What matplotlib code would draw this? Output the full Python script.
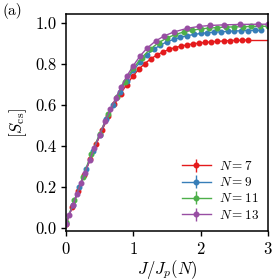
import matplotlib
matplotlib.use("Agg")
import matplotlib.pyplot as plt

# fontes estilo LaTeX
plt.rcParams["font.family"] = "serif"
plt.rcParams["font.serif"] = ["cmr10", "DejaVu Serif"]
plt.rcParams["mathtext.fontset"] = "cm"
plt.rcParams["axes.formatter.use_mathtext"] = True

# dados
x_n7 = [0.0, 0.09, 0.18, 0.27, 0.36, 0.45, 0.54, 0.63, 0.72, 0.81, 0.9, 0.99, 1.08,
        1.17, 1.26, 1.35, 1.44, 1.53, 1.62, 1.71, 1.8, 1.89, 1.98, 2.07, 2.16, 2.25,
        2.34, 2.43, 2.52, 2.61, 2.7]
y_n7 = [0.02, 0.10, 0.18, 0.26, 0.335, 0.41, 0.48, 0.545, 0.605, 0.655, 0.70, 0.74,
        0.775, 0.803, 0.826, 0.845, 0.86, 0.872, 0.881, 0.888, 0.894, 0.899, 0.903,
        0.906, 0.909, 0.911, 0.913, 0.915, 0.916, 0.917, 0.918]

x_n9 = [0.0, 0.1, 0.2, 0.3, 0.4, 0.5, 0.6, 0.7, 0.8, 0.9, 1.0, 1.1, 1.2, 1.3, 1.4,
        1.5, 1.6, 1.7, 1.8, 1.9, 2.0, 2.1, 2.2, 2.3, 2.4, 2.5, 2.6, 2.7, 2.8, 2.9]
y_n9 = [0.025, 0.11, 0.2, 0.29, 0.375, 0.455, 0.53, 0.6, 0.665, 0.72, 0.77, 0.81,
        0.845, 0.872, 0.893, 0.909, 0.921, 0.931, 0.939, 0.945, 0.95, 0.953, 0.956,
        0.958, 0.96, 0.962, 0.963, 0.964, 0.965, 0.965]

x_n11 = [0.0, 0.125, 0.25, 0.375, 0.5, 0.625, 0.75, 0.875, 1.0, 1.125, 1.25, 1.375,
         1.5, 1.625, 1.75, 1.875, 2.0, 2.125, 2.25, 2.375, 2.5, 2.625, 2.75, 2.875, 3.0]
y_n11 = [0.03, 0.135, 0.25, 0.36, 0.46, 0.555, 0.64, 0.715, 0.78, 0.832, 0.873, 0.905,
         0.928, 0.945, 0.957, 0.966, 0.972, 0.976, 0.979, 0.981, 0.982, 0.983, 0.984,
         0.985, 0.985]

x_n13 = [0.0, 0.05, 0.1, 0.16, 0.22, 0.28, 0.35, 0.42, 0.5, 0.58, 0.66, 0.74, 0.82,
         0.9, 1.0, 1.1, 1.2, 1.33, 1.46, 1.6, 1.8, 1.97, 2.14, 2.34, 2.59, 2.85, 3.0]
y_n13 = [0.02, 0.065, 0.11, 0.165, 0.22, 0.27, 0.33, 0.39, 0.455, 0.52, 0.58, 0.635,
         0.69, 0.74, 0.793, 0.84, 0.877, 0.913, 0.938, 0.957, 0.975, 0.984, 0.989,
         0.992, 0.994, 0.995, 0.995]

# valor final da linha de N=7 (sem marcador)
y_n7_end = 0.918

series = [
    (x_n7, y_n7, "#e41a1c", r"$N = 7$"),
    (x_n9, y_n9, "#377eb8", r"$N = 9$"),
    (x_n11, y_n11, "#4daf4a", r"$N = 11$"),
    (x_n13, y_n13, "#984ea3", r"$N = 13$"),
]

fig = plt.figure(figsize=(2.74, 2.80), dpi=100)
ax = fig.add_axes([0.241, 0.175, 0.737, 0.775])

for xs, ys, color, label in series:
    ax.errorbar(xs, ys, yerr=[0.004] * len(xs), color=color, marker="o", ms=3.3,
                lw=1.0, elinewidth=1.0, capsize=0, label=label)

# prolongamento da linha vermelha ate x=3
ax.plot([x_n7[-1], 3.0], [y_n7[-1], y_n7_end], color="#e41a1c", lw=1.0)

ax.set_xlim(0, 3)
ax.set_ylim(-0.015, 1.045)
ax.set_xticks([0, 1, 2, 3])
ax.set_yticks([0.0, 0.2, 0.4, 0.6, 0.8, 1.0])
ax.set_yticklabels(["0.0", "0.2", "0.4", "0.6", "0.8", "1.0"])
ax.tick_params(labelsize=12, direction="out", length=3.5, width=1.0)
for sp in ax.spines.values():
    sp.set_linewidth(1.1)

ax.set_xlabel(r"$J/J_p(N)$", fontsize=12, labelpad=1)
ax.set_ylabel(r"$[S_{\rm cs}]$", fontsize=12, labelpad=4)

fig.text(0.008, 0.945, "(a)", fontsize=11)

leg = ax.legend(loc="lower right", fontsize=9.5, frameon=False, handlelength=2.2,
                labelspacing=0.25, borderaxespad=0.3, handletextpad=0.6)

fig.savefig("out.png", dpi=100)
